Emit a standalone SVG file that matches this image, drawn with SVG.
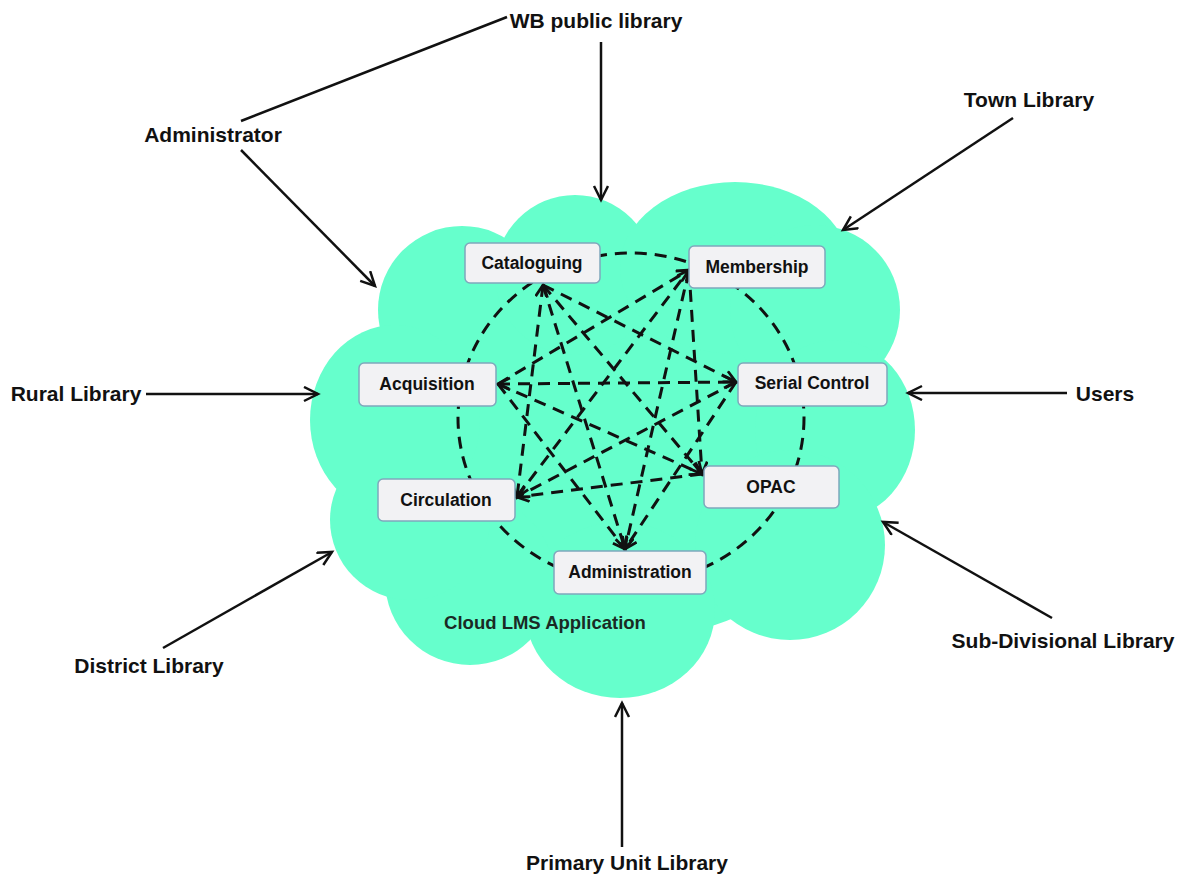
<svg xmlns="http://www.w3.org/2000/svg" width="1183" height="875" viewBox="0 0 1183 875">
<defs>
<style>
.lbl{font-family:"Liberation Sans",Arial,sans-serif;font-weight:bold;font-size:21px;fill:#111}
.nt{font-family:"Liberation Sans",Arial,sans-serif;font-weight:bold;font-size:17.5px;fill:#111;text-anchor:middle}
.box{fill:#F2F2F4;stroke:#7FA8BC;stroke-width:1.5}
.solid{stroke:#111;stroke-width:2.5;fill:none}
.dash{stroke:#111;stroke-width:3;fill:none;stroke-dasharray:12 8}
.cloud{fill:#66FFCC}
</style>
<marker id="arrS" markerUnits="userSpaceOnUse" markerWidth="18" markerHeight="18" refX="15" refY="8" orient="auto-start-reverse">
<path d="M1,1 L15,8 L1,15" fill="none" stroke="#111" stroke-width="2.5" stroke-dasharray="none"/>
</marker>
<marker id="arrD" markerUnits="userSpaceOnUse" markerWidth="16" markerHeight="16" refX="13" refY="7" orient="auto-start-reverse">
<path d="M1,1 L13,7 L1,13" fill="none" stroke="#111" stroke-width="2.8" stroke-dasharray="none"/>
</marker>
</defs>
<rect width="1183" height="875" fill="#fff"/>

<g id="cloud" class="cloud">
<ellipse cx="620" cy="440" rx="250" ry="200"/>
<circle cx="462" cy="310" r="84"/>
<circle cx="575" cy="275" r="80"/>
<ellipse cx="735" cy="268" rx="115" ry="86"/>
<circle cx="815" cy="310" r="85"/>
<ellipse cx="835" cy="430" rx="80" ry="90"/>
<circle cx="790" cy="545" r="95"/>
<ellipse cx="620" cy="610" rx="95" ry="88"/>
<circle cx="470" cy="580" r="85"/>
<circle cx="410" cy="520" r="80"/>
<ellipse cx="395" cy="420" rx="85" ry="95"/>
<text x="545" y="629" style="font-family:'Liberation Sans',Arial,sans-serif;font-weight:bold;font-size:18.5px;fill:#1a2a24" text-anchor="middle">Cloud LMS Application</text>
</g>

<g id="connectors">
<line class="solid" x1="507" y1="17" x2="241" y2="121"/>
<line class="solid" x1="241" y1="150" x2="375" y2="286" marker-end="url(#arrS)"/>
<line class="solid" x1="601" y1="42" x2="601" y2="200" marker-end="url(#arrS)"/>
<line class="solid" x1="1013" y1="118" x2="843" y2="230" marker-end="url(#arrS)"/>
<line class="solid" x1="146" y1="394" x2="318" y2="394" marker-end="url(#arrS)"/>
<line class="solid" x1="1067" y1="393" x2="908" y2="393" marker-end="url(#arrS)"/>
<line class="solid" x1="163" y1="648" x2="332" y2="552" marker-end="url(#arrS)"/>
<line class="solid" x1="1052" y1="618" x2="883" y2="522" marker-end="url(#arrS)"/>
<line class="solid" x1="622" y1="847" x2="622" y2="703" marker-end="url(#arrS)"/>

<ellipse class="dash" cx="631" cy="418" rx="173" ry="165"/>
<line class="dash" x1="543" y1="285" x2="736" y2="382" marker-end="url(#arrD)"/>
<line class="dash" x1="543" y1="285" x2="702" y2="474" marker-end="url(#arrD)"/>
<line class="dash" x1="543" y1="285" x2="625" y2="549" marker-end="url(#arrD)"/>
<line class="dash" x1="543" y1="285" x2="517" y2="497" marker-start="url(#arrD)" marker-end="url(#arrD)"/>
<line class="dash" x1="689" y1="270" x2="702" y2="474" marker-end="url(#arrD)"/>
<line class="dash" x1="689" y1="270" x2="625" y2="549" marker-end="url(#arrD)"/>
<line class="dash" x1="517" y1="497" x2="689" y2="270" marker-end="url(#arrD)"/>
<line class="dash" x1="498" y1="384" x2="689" y2="270" marker-end="url(#arrD)"/>
<line class="dash" x1="736" y1="382" x2="625" y2="549" marker-end="url(#arrD)"/>
<line class="dash" x1="736" y1="382" x2="517" y2="497" marker-end="url(#arrD)"/>
<line class="dash" x1="498" y1="384" x2="736" y2="382" marker-start="url(#arrD)" marker-end="url(#arrD)"/>
<line class="dash" x1="702" y1="474" x2="517" y2="497" marker-end="url(#arrD)"/>
<line class="dash" x1="498" y1="384" x2="702" y2="474" marker-end="url(#arrD)"/>
<line class="dash" x1="498" y1="384" x2="625" y2="549" marker-end="url(#arrD)"/>
</g>

<g id="n-wb"><text class="lbl" x="596" y="28" text-anchor="middle">WB public library</text></g>
<g id="n-admin"><text class="lbl" x="213" y="142" text-anchor="middle">Administrator</text></g>
<g id="n-town"><text class="lbl" x="1029" y="107" text-anchor="middle">Town Library</text></g>
<g id="n-rural"><text class="lbl" x="76" y="401" text-anchor="middle">Rural Library</text></g>
<g id="n-users"><text class="lbl" x="1105" y="401" text-anchor="middle">Users</text></g>
<g id="n-district"><text class="lbl" x="149" y="673" text-anchor="middle">District Library</text></g>
<g id="n-subdiv"><text class="lbl" x="1063" y="648" text-anchor="middle">Sub-Divisional Library</text></g>
<g id="n-primary"><text class="lbl" x="627" y="870" text-anchor="middle">Primary Unit Library</text></g>

<g id="n-cat"><rect class="box" x="465" y="243" width="135" height="40" rx="5"/><text class="nt" x="532" y="269">Cataloguing</text></g>
<g id="n-mem"><rect class="box" x="689" y="246" width="136" height="42" rx="5"/><text class="nt" x="757" y="273">Membership</text></g>
<g id="n-acq"><rect class="box" x="359" y="363" width="137" height="43" rx="5"/><text class="nt" x="427" y="390">Acquisition</text></g>
<g id="n-ser"><rect class="box" x="738" y="363" width="149" height="43" rx="5"/><text class="nt" x="812" y="389">Serial Control</text></g>
<g id="n-circ"><rect class="box" x="378" y="479" width="137" height="42" rx="5"/><text class="nt" x="446" y="506">Circulation</text></g>
<g id="n-opac"><rect class="box" x="704" y="466" width="135" height="42" rx="5"/><text class="nt" x="771" y="493">OPAC</text></g>
<g id="n-adm"><rect class="box" x="554" y="551" width="152" height="43" rx="5"/><text class="nt" x="630" y="578">Administration</text></g>
</svg>
